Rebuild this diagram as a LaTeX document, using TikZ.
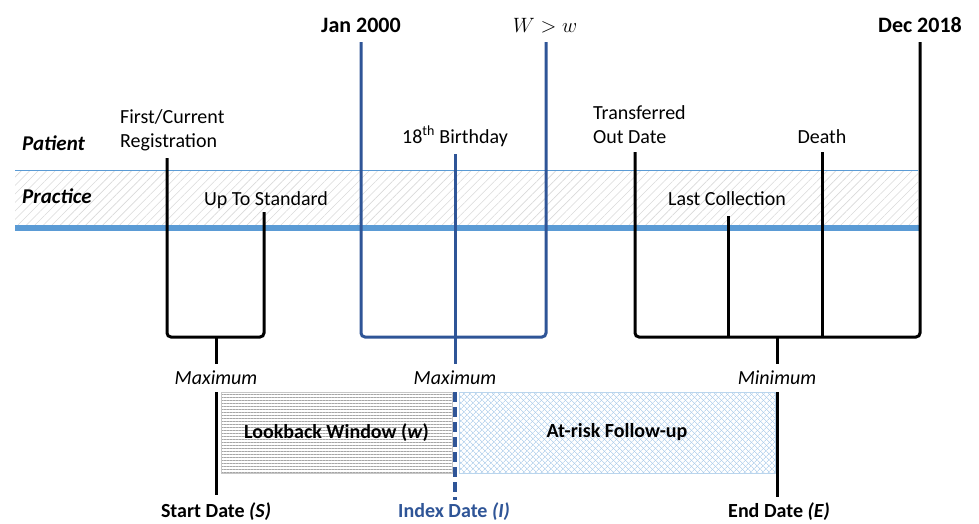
\documentclass[tikz,border=0pt]{standalone}
\usepackage{fontspec}
\setmainfont{Carlito}
\usetikzlibrary{calc}
\usetikzlibrary{positioning}
\usetikzlibrary{patterns.meta}
\definecolor{bandblue}{HTML}{5B9BD5}
\definecolor{deepblue}{HTML}{2F5597}
\definecolor{riskblue}{HTML}{9DC3E6}

\begin{document}
\begin{tikzpicture}[x=1pt,y=-1pt,
    txt/.style={font=\fontsize{20}{24}\selectfont,inner sep=0pt},
    hdr/.style={font=\fontsize{22}{26}\selectfont\bfseries,inner sep=0pt},
    evt/.style={line width=3pt},
    brk/.style={line width=3pt,rounded corners=4pt}]
    \useasboundingbox (0,0) rectangle (979,523);

    % practice band between the two rules
    \fill[pattern={Lines[angle=45,distance=6pt,line width=.6pt]},pattern color=gray!30]
        (15,170) rectangle (918,228);
    \draw[bandblue,line width=.8pt] (15,170) -- (918,170);
    \draw[bandblue,line width=6pt] (15,228) -- (920,228);
    \node[txt,font=\fontsize{21}{25}\selectfont\bfseries\itshape,anchor=base west] (patient) at (22,150) {Patient};
    \node[txt,font=\fontsize{21}{25}\selectfont\bfseries\itshape,anchor=base west] (practice) at (22,203) {Practice};

    % events (two-line labels sit on their last line)
    \node[txt,anchor=base west,align=left] (reg) at (120,147) {First/Current\\Registration};
    \node[txt,anchor=base] (uts) at (266,205) {Up To Standard};
    \node[txt,anchor=base] (bday) at (455,143) {18\textsuperscript{th} Birthday};
    \node[txt,anchor=base west,align=left] (tod) at (593,143) {Transferred\\Out Date};
    \node[txt,anchor=base] (lc) at (727,205) {Last Collection};
    \node[txt,anchor=base] (death) at (822,143) {Death};
    \node[hdr,anchor=base] (jan) at (361,32) {Jan 2000};
    \node[txt,font=\fontsize{21}{25}\selectfont,anchor=base] (ww) at (545,32) {$W > w$};
    \node[hdr,anchor=base] (dec) at (920,32) {Dec 2018};

    \path (167,158) coordinate (regT) (264,212) coordinate (utsT)
          (167,337) coordinate (b1L) (264,337) coordinate (b1R) (216,337) coordinate (b1M)
          (361,42) coordinate (janT) (546,42) coordinate (wwT) (455,154) coordinate (bdayT)
          (361,337) coordinate (b2L) (546,337) coordinate (b2R) (455,337) coordinate (b2M)
          (635,152) coordinate (todT) (728,216) coordinate (lcT) (822,152) coordinate (deathT)
          (920,42) coordinate (decT)
          (635,337) coordinate (b3L) (920,337) coordinate (b3R) (777,337) coordinate (b3M)
          (728,337) coordinate (b3a) (822,337) coordinate (b3b);

    % brackets
    \draw[brk] (regT) -- (b1L) -- (b1R) -- (utsT);
    \draw[brk,deepblue] (janT) -- (b2L) -- (b2R) -- (wwT);
    \draw[evt,deepblue] (bdayT) -- (b2M);
    \draw[brk] (todT) -- (b3L) -- (b3R) -- (decT);
    \draw[evt] (lcT) -- (b3a) (deathT) -- (b3b);

    \node[txt,font=\fontsize{20}{24}\selectfont\itshape,anchor=base] (max1) at (216,384) {Maximum};
    \node[txt,font=\fontsize{20}{24}\selectfont\itshape,anchor=base] (max2) at (455,384) {Maximum};
    \node[txt,font=\fontsize{20}{24}\selectfont\itshape,anchor=base] (min1) at (777,384) {Minimum};
    \path (216,364) coordinate (s1) (455,364) coordinate (s2) (777,364) coordinate (s3);
    \draw[evt] (b1M) -- (s1);
    \draw[evt,deepblue] (b2M) -- (s2);
    \draw[evt] (b3M) -- (s3);

    % study periods
    \draw[gray!45,line width=.6pt,pattern={Lines[angle=0,distance=3pt,line width=.5pt]},pattern color=gray!70]
        (221,392) rectangle node[txt,text=black,font=\fontsize{20}{24}\selectfont\bfseries] (look) {Lookback Window (\textit{w})} (452,473);
    \path (459,392) coordinate (rA) (775,473) coordinate (rB);
    \fill[pattern={Lines[angle=45,distance=4pt,line width=.5pt]},pattern color=riskblue] (rA) rectangle (rB);
    \fill[pattern={Lines[angle=-45,distance=4pt,line width=.5pt]},pattern color=riskblue] (rA) rectangle (rB);
    \draw[riskblue!70,line width=.6pt] (rA) rectangle node[txt,text=black,font=\fontsize{20}{24}\selectfont\bfseries] (risk) {At-risk Follow-up} (rB);

    \node[txt,font=\fontsize{20}{24}\selectfont\bfseries,anchor=base] (start) at (216,517) {Start Date \textit{(S)}};
    \node[txt,font=\fontsize{20}{24}\selectfont\bfseries,anchor=base,deepblue] (index) at (454,517) {Index Date \textit{(I)}};
    \node[txt,font=\fontsize{20}{24}\selectfont\bfseries,anchor=base] (end) at (779,517) {End Date \textit{(E)}};
    \path (216,392) coordinate (sT) (216,495) coordinate (sB)
          (455,392) coordinate (iT) (455,500) coordinate (iB)
          (777,392) coordinate (eT) (777,497) coordinate (eB);
    \draw[evt] (sT) -- (sB);
    \draw[evt] (eT) -- (eB);
    \draw[deepblue,line width=3.5pt,dash pattern=on 10pt off 5pt] (iT) -- (iB);
\end{tikzpicture}
\end{document}
